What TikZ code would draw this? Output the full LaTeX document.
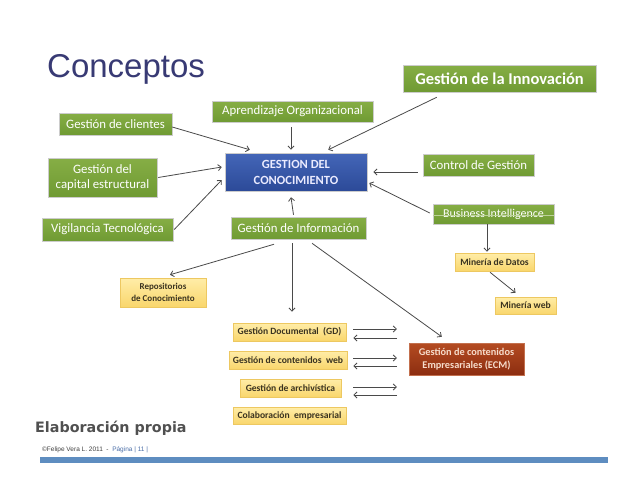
\documentclass[tikz,border=0pt]{standalone}
\usepackage{fontspec}
\setmainfont{Carlito}
\newfontfamily\arialf{Liberation Sans}
\newfontfamily\dejaf{DejaVu Sans}
\usetikzlibrary{shadows,arrows.meta,calc}
\definecolor{grnT}{HTML}{86AE45}
\definecolor{grnB}{HTML}{6F9A33}
\definecolor{bluT}{HTML}{4466B8}
\definecolor{bluB}{HTML}{2C4A98}
\definecolor{yelT}{HTML}{FFEDA8}
\definecolor{yelB}{HTML}{F9D66C}
\definecolor{yelD}{HTML}{EDC861}
\definecolor{ytext}{HTML}{3A3320}
\definecolor{ecmT}{HTML}{B44C22}
\definecolor{ecmB}{HTML}{8C2D10}
\definecolor{ecmtext}{HTML}{F6DCCB}
\definecolor{titlec}{HTML}{383A74}
\definecolor{arrc}{HTML}{4A4A4A}
\definecolor{footc}{HTML}{505050}
\definecolor{barc}{HTML}{5E8DC0}
\definecolor{pagec}{HTML}{4A6EA8}
\begin{document}
\begin{tikzpicture}[x=1pt,y=-1pt,
  box/.style={draw=white!80!black, line width=0.5pt, inner sep=0pt, align=center,
    drop shadow={shadow xshift=1pt,shadow yshift=-1.2pt,opacity=0.3}},
  gbox/.style={box, top color=grnT, bottom color=grnB, text=white,
    font=\fontsize{12.8}{15}\selectfont},
  ybox/.style={box, draw=yelD, top color=yelT, bottom color=yelB, text=ytext,
    font=\bfseries\fontsize{9.6}{11.5}\selectfont},
  arr/.style={draw=arrc, line width=0.8pt, -{Straight Barb[length=3.2pt,width=6pt]}},
]
\fill[white] (0,0) rectangle (638,493);
\useasboundingbox (0,0) rectangle (638,493);

% title
\node[anchor=base west, inner sep=0pt, text=titlec, font=\arialf\fontsize{33}{36}\selectfont] (title) at (47,77) {Conceptos};

% green boxes
\node[gbox, minimum width=193pt, minimum height=27pt, font=\bfseries\fontsize{16.5}{18}\selectfont] (innov) at (499.5,78.5) {Gestión de la Innovación};
\node[gbox, minimum width=161pt, minimum height=21pt] (aprend) at (292.5,111.5) {Aprendizaje Organizacional};
\node[gbox, minimum width=113pt, minimum height=22pt] (clientes) at (115.5,124) {Gestión de clientes};
\node[gbox, minimum width=109pt, minimum height=39pt] (capital) at (102.5,177.5) {Gestión del\\capital estructural};
\node[gbox, minimum width=131pt, minimum height=23pt] (vigil) at (107.5,229.5) {Vigilancia Tecnológica};
\node[gbox, minimum width=135pt, minimum height=22pt] (ginfo) at (298.5,228) {Gestión de Información};
\node[gbox, minimum width=111pt, minimum height=22pt] (control) at (478.5,165) {Control de Gestión};
\node[gbox, minimum width=121pt, minimum height=20pt, font=\fontsize{12}{14}\selectfont] (bi) at (493.5,214) {Business Intelligence};
\draw[white!45!grnT, line width=0.4pt] ([yshift=-1pt]bi.west) -- ([yshift=-1pt]bi.east);

% central box
\node[box, top color=bluT, bottom color=bluB, text=white!92!blue, minimum width=142pt, minimum height=38pt,
  font=\bfseries\fontsize{12.5}{16}\selectfont] (gc) at (296,172) {GESTION DEL\\CONOCIMIENTO};

% yellow boxes
\node[ybox, minimum width=79pt, minimum height=18pt] (mdatos) at (494.5,262) {Minería de Datos};
\node[ybox, minimum width=61pt, minimum height=17pt] (mweb) at (525.5,305.5) {Minería web};
\node[ybox, minimum width=86pt, minimum height=29pt, font=\bfseries\fontsize{9}{11.5}\selectfont] (repos) at (163,292.5) {Repositorios\\de Conocimiento};
\node[ybox, minimum width=113pt, minimum height=18pt] (gd) at (289.5,332) {Gestión Documental\ \ (GD)};
\node[ybox, minimum width=118pt, minimum height=18pt] (gcw) at (288,360) {Gestión de contenidos\ \ web};
\node[ybox, minimum width=101pt, minimum height=18pt] (arch) at (290.5,388) {Gestión de archivística};
\node[ybox, minimum width=113pt, minimum height=17pt] (colab) at (289.5,415.5) {Colaboración\ \ empresarial};

% ECM
\node[box, draw=ecmT!80!white, top color=ecmT, bottom color=ecmB, text=ecmtext, minimum width=115pt, minimum height=32pt,
  font=\bfseries\fontsize{10.3}{13.5}\selectfont] (ecm) at (466.5,359) {Gestión de contenidos\\Empresariales (ECM)};

% connectors to the centre
\draw[arr] ([yshift=-3pt]clientes.east) -- ([xshift=25pt,yshift=3pt]gc.north west);
\draw[arr] ([xshift=1pt]capital.east) -- ([xshift=-3pt,yshift=5pt]gc.west);
\draw[arr] ([xshift=1pt]vigil.east) -- ([xshift=-3pt,yshift=-8pt]gc.west);
\draw[arr] ([xshift=-1.5pt,yshift=-5pt]aprend.south) -- ([xshift=-5pt,yshift=3pt]gc.north);
\draw[arr] ([xshift=-5pt,yshift=2pt]ginfo.north) -- ([xshift=-5pt,yshift=-6pt]gc.south);
\draw[arr] ([xshift=34pt,yshift=-5pt]innov.south west) -- ([xshift=-39pt,yshift=3pt]gc.north east);
\draw[arr] ([xshift=-5pt,yshift=-7pt]control.west) -- ([xshift=6pt]gc.east);
\draw[arr] ([xshift=-3pt,yshift=1pt]bi.west) -- ([xshift=2pt,yshift=-11pt]gc.east);

% BI chain
\draw[arr] ([xshift=-6.5pt]bi.south) -- ([xshift=-7.5pt,yshift=1pt]mdatos.north);
\draw[arr] ([xshift=-4.5pt,yshift=-1pt]mdatos.south) -- ([xshift=-10pt,yshift=4pt]mweb.north);

% from Gestion de Informacion
\draw[arr] ([xshift=-24.5pt,yshift=-5pt]ginfo.south) -- ([xshift=7pt,yshift=3pt]repos.north);
\draw[arr] ([xshift=-6.5pt,yshift=-4pt]ginfo.south) -- ([xshift=2.5pt,yshift=11pt]gd.north);
\draw[arr] ([xshift=13.5pt,yshift=-4pt]ginfo.south) -- ([xshift=33pt,yshift=6pt]ecm.north west);

% exchange arrows
\coordinate (p1) at (397,329); \coordinate (q1) at (397,338);
\coordinate (p2) at (397,358); \coordinate (q2) at (397,366);
\coordinate (p3) at (397,387); \coordinate (q3) at (397,395);
\draw[arr] ([xshift=7pt,yshift=3pt]gd.east) -- (p1);
\draw[arr] (q1) -- ([xshift=7pt,yshift=-6pt]gd.east);
\draw[arr] ([xshift=6pt,yshift=2pt]gcw.east) -- (p2);
\draw[arr] (q2) -- ([xshift=6pt,yshift=-6pt]gcw.east);
\draw[arr] ([xshift=12pt,yshift=1pt]arch.east) -- (p3);
\draw[arr] (q3) -- ([xshift=12pt,yshift=-7pt]arch.east);

% footer
\node[anchor=base west, inner sep=0pt, text=footc, font=\dejaf\bfseries\fontsize{14.3}{16}\selectfont] (elab) at (35,432) {Elaboración propia};
\node[anchor=base west, inner sep=0pt, text=black!75, font=\arialf\fontsize{6.5}{8}\selectfont] (foot) at (42,451.5) {©Felipe Vera L. 2011\ \ -\ \ \textcolor{pagec}{Página | 11 |}};
\fill[barc] (40,457) rectangle (608,463);
\end{tikzpicture}
\end{document}
